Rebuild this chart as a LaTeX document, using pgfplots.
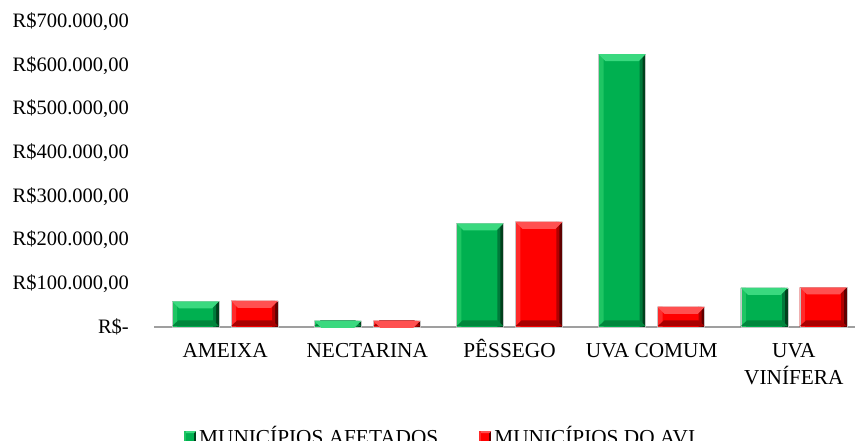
\documentclass[border=0pt]{standalone}
\usepackage{fontspec}
\setmainfont{Liberation Serif}
\usepackage{pgfplots}
\usepackage{pgfplotstable}
\pgfplotsset{compat=1.18}
\definecolor{gm}{HTML}{00B050}
\definecolor{gt}{HTML}{3AD97F}
\definecolor{gl}{HTML}{1EC563}
\definecolor{gr}{HTML}{00401C}
\definecolor{grm}{HTML}{00793A}
\definecolor{gb}{HTML}{00863C}
\definecolor{rm}{HTML}{FF0000}
\definecolor{rt}{HTML}{FF5050}
\definecolor{rl}{HTML}{FF2A2A}
\definecolor{rr}{HTML}{600000}
\definecolor{rrm}{HTML}{B00000}
\definecolor{rb}{HTML}{A80000}
\pgfdeclareplotmark{bevtop}{%
  \pgfpathmoveto{\pgfqpoint{-23.5bp}{0bp}}%
  \pgfpathlineto{\pgfqpoint{23.5bp}{0bp}}%
  \pgfpathlineto{\pgfqpoint{16.5bp}{-7bp}}%
  \pgfpathlineto{\pgfqpoint{-16.5bp}{-7bp}}%
  \pgfpathclose\pgfusepathqfill}
\pgfdeclareplotmark{bevbot}{%
  \pgfpathmoveto{\pgfqpoint{-23.5bp}{0.8bp}}%
  \pgfpathlineto{\pgfqpoint{23.5bp}{0.8bp}}%
  \pgfpathlineto{\pgfqpoint{17.5bp}{6.5bp}}%
  \pgfpathlineto{\pgfqpoint{-17.5bp}{6.5bp}}%
  \pgfpathclose\pgfusepathqfill}
\newcommand{\yfont}{\fontsize{20.5bp}{27bp}\selectfont}
\newcommand{\xfont}{\fontsize{21.3bp}{27bp}\selectfont}
\pgfplotstableread{
x g r z
0 59000 60000 0
1 14000 14000 0
2 238000 241000 0
3 626000 46000 0
4 90000 91000 0
}\datatable
\begin{document}
\begin{tikzpicture}[x=1bp,y=1bp]
\path[use as bounding box] (0,0) rectangle (855,441);
\begin{axis}[
  at={(154bp,114bp)}, anchor=south west, scale only axis,
  width=701bp, height=305bp,
  xmin=-0.5, xmax=4.43, ymin=0, ymax=700000,
  axis x line*=bottom, axis y line*=left,
  y axis line style={draw=none},
  x axis line style={draw=gray!75, line width=1.5bp, -},
  tick style={draw=none},
  xtick={0,1,2,3,4},
  xticklabels={{AMEIXA\\\strut},{NECTARINA\\\strut},{PÊSSEGO\\\strut},{UVA COMUM\\\strut},{UVA\\VINÍFERA}},
  ytick={0,100000,200000,300000,400000,500000,600000,700000},
  yticklabels={R\$-,{R\$100.000,00},{R\$200.000,00},{R\$300.000,00},{R\$400.000,00},{R\$500.000,00},{R\$600.000,00},{R\$700.000,00}},
  scaled y ticks=false,
  xticklabel style={font=\xfont, align=center, anchor=base, yshift=-58bp, inner sep=0pt},
  yticklabel style={font=\yfont, anchor=east, inner sep=0pt, xshift=-25bp},
  legend style={at={(0.0428,-0.3607)}, anchor=west, draw=none, fill=none,
    inner sep=0pt, legend columns=2, font=\xfont,
    nodes={inner sep=0pt, text height=14bp, text depth=0pt},
    /tikz/every odd column/.append style={column sep=3bp},
    /tikz/every even column/.append style={column sep=41bp}},
  legend cell align=left,
  clip=false,
]
% green series: dark right edge, mid strip, main body, light left edge
\addplot[ybar, bar width=47bp, bar shift=-29.5bp, fill=gr, draw=none,
  legend image code/.code={
    \fill[gr] (0bp,-6bp) rectangle (12bp,6bp);
    \fill[gm] (0bp,-6bp) rectangle (10bp,6bp);
    \fill[gt] (0bp,6bp) -- (12bp,6bp) -- (10bp,4bp) -- (2bp,4bp) -- cycle;
    \fill[gl] (0bp,-6bp) rectangle (1.5bp,6bp);}]
  table[x=x, y=g] {\datatable};
\addlegendentry{MUNICÍPIOS AFETADOS}
\addplot[ybar, bar width=3.5bp, bar shift=-10.75bp, fill=grm, draw=none, forget plot]
  table[x=x, y=g] {\datatable};
\addplot[ybar, bar width=41bp, bar shift=-32.5bp, fill=gm, draw=none, forget plot]
  table[x=x, y=g] {\datatable};
\addplot[ybar, bar width=5bp, bar shift=-50.5bp, fill=gl, draw=none, forget plot]
  table[x=x, y=g] {\datatable};
% red series
\addplot[ybar, bar width=47bp, bar shift=29.5bp, fill=rr, draw=none,
  legend image code/.code={
    \fill[rr] (0bp,-6bp) rectangle (12bp,6bp);
    \fill[rm] (0bp,-6bp) rectangle (10bp,6bp);
    \fill[rt] (0bp,6bp) -- (12bp,6bp) -- (10bp,4bp) -- (2bp,4bp) -- cycle;
    \fill[rl] (0bp,-6bp) rectangle (1.5bp,6bp);}]
  table[x=x, y=r] {\datatable};
\addlegendentry{MUNICÍPIOS DO AVI}
\addplot[ybar, bar width=3.5bp, bar shift=48.25bp, fill=rrm, draw=none, forget plot]
  table[x=x, y=r] {\datatable};
\addplot[ybar, bar width=41bp, bar shift=26.5bp, fill=rm, draw=none, forget plot]
  table[x=x, y=r] {\datatable};
\addplot[ybar, bar width=5bp, bar shift=8.5bp, fill=rl, draw=none, forget plot]
  table[x=x, y=r] {\datatable};
% bevel bottoms
\addplot[only marks, mark=bevbot, color=gb, mark options={xshift=-29.5bp}, forget plot]
  table[x=x, y=z] {\datatable};
\addplot[only marks, mark=bevbot, color=rb, mark options={xshift=29.5bp}, forget plot]
  table[x=x, y=z] {\datatable};
% bevel tops
\addplot[only marks, mark=bevtop, color=gt, mark options={xshift=-29.5bp}, forget plot]
  table[x=x, y=g] {\datatable};
\addplot[only marks, mark=bevtop, color=rt, mark options={xshift=29.5bp}, forget plot]
  table[x=x, y=r] {\datatable};
% thin outline
\addplot[ybar, bar width=47bp, bar shift=-29.5bp, fill=none, draw=gray!45, line width=0.4bp, forget plot]
  table[x=x, y=g] {\datatable};
\addplot[ybar, bar width=47bp, bar shift=29.5bp, fill=none, draw=gray!45, line width=0.4bp, forget plot]
  table[x=x, y=r] {\datatable};
\end{axis}
\end{tikzpicture}
\end{document}
